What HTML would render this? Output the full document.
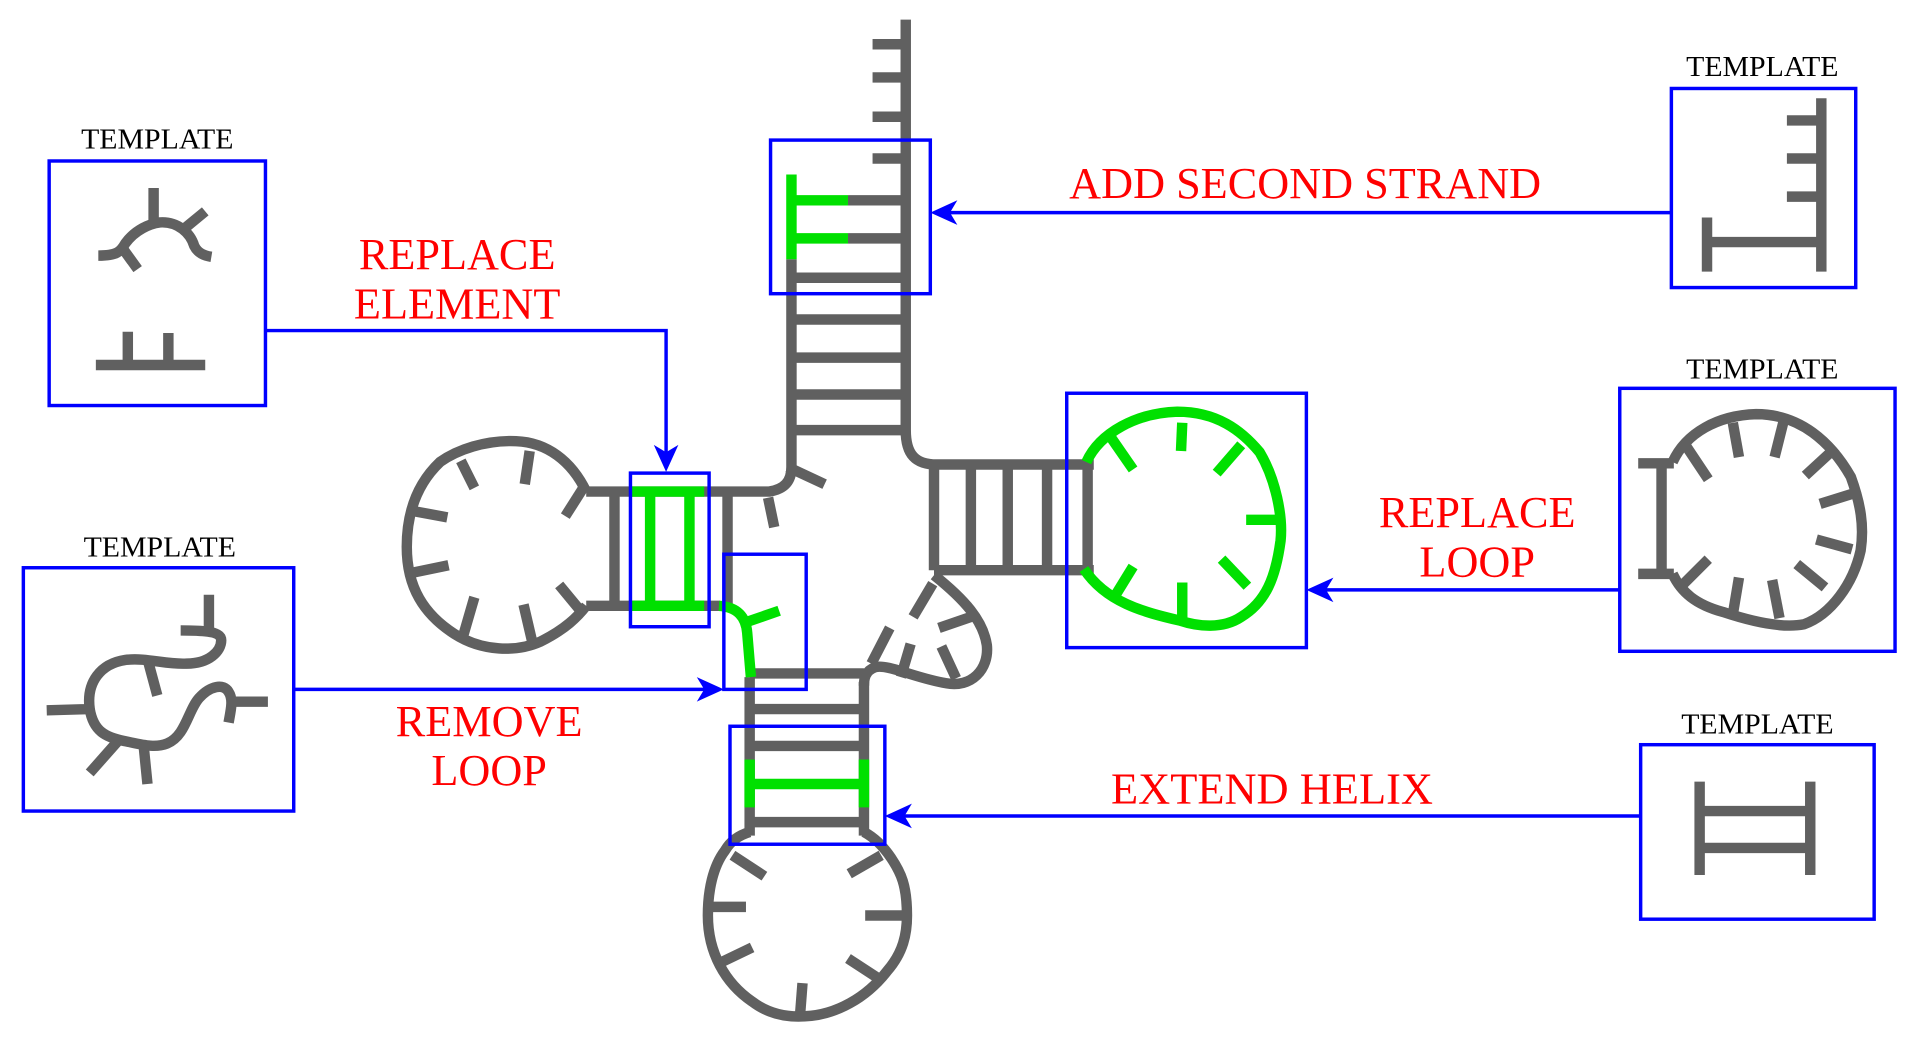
<!DOCTYPE html>
<html><head><meta charset="utf-8"><style>
html,body{margin:0;padding:0;background:#fff;}
svg{display:block;}
</style></head><body>
<svg width="1927" height="1047" viewBox="0 0 1568 852" preserveAspectRatio="none" xmlns="http://www.w3.org/2000/svg">
<g fill="none" stroke="#606060" stroke-width="8.5" stroke-linejoin="round">
<path d="M737,16 L737,350 C737,370 745,378 762,378 L890,378"/>
<path d="M644,211 L644,380 C644,392 638,398 626,400 L477,400"/>
<g stroke-linecap="butt">
<line x1="710" y1="36" x2="737" y2="36"/><line x1="710" y1="63" x2="737" y2="63"/>
<line x1="710" y1="95" x2="737" y2="95"/><line x1="710" y1="129" x2="737" y2="129"/>
<line x1="690" y1="163" x2="737" y2="163"/><line x1="690" y1="194" x2="737" y2="194"/>
<line x1="644" y1="226" x2="737" y2="226"/><line x1="644" y1="260" x2="737" y2="260"/>
<line x1="644" y1="291" x2="737" y2="291"/><line x1="644" y1="321" x2="737" y2="321"/>
<line x1="644" y1="350" x2="737" y2="350"/>
<line x1="641" y1="380" x2="671" y2="394"/>
<line x1="625" y1="405" x2="630" y2="429"/>
</g>
<path d="M477,493 L586,493"/>
<line x1="500" y1="400" x2="500" y2="493"/>
<line x1="592" y1="400" x2="592" y2="493"/>
<path d="M477,400 C465,375 445,360 420,359 C395,358 372,366 358,376 C338,395 331,420 331,445 C331,478 345,500 370,516 C392,530 420,531 440,522 C460,512 470,502 477,493"/>
<line x1="375" y1="375" x2="386" y2="397"/><line x1="431" y1="367" x2="427" y2="394"/>
<line x1="474" y1="398" x2="460" y2="420"/><line x1="337" y1="416" x2="364" y2="421"/>
<line x1="336" y1="466" x2="365" y2="460"/><line x1="386" y1="486" x2="377" y2="517"/>
<line x1="426" y1="492" x2="433" y2="522"/><line x1="455" y1="476" x2="474" y2="499"/>
<line x1="760" y1="378" x2="760" y2="464"/>
<line x1="760" y1="464" x2="890" y2="464"/>
<line x1="790" y1="378" x2="790" y2="464"/><line x1="820" y1="378" x2="820" y2="464"/>
<line x1="852" y1="378" x2="852" y2="464"/><line x1="885" y1="378" x2="885" y2="464"/>
<path d="M760,468 C785,488 800,505 803,525 C805,545 790,560 770,556 C745,552 722,540 712,543 C704,546 703,552 703,558"/>
<line x1="759" y1="475" x2="743" y2="502"/><line x1="764" y1="511" x2="790" y2="502"/>
<line x1="766" y1="526" x2="778" y2="552"/><line x1="741" y1="524" x2="733" y2="551"/>
<line x1="724" y1="511" x2="709" y2="540"/>
<line x1="610" y1="551" x2="610" y2="680"/>
<line x1="703" y1="555" x2="703" y2="680"/>
<line x1="610" y1="548" x2="703" y2="548"/>
<line x1="610" y1="577" x2="703" y2="577"/><line x1="610" y1="607" x2="703" y2="607"/>
<line x1="610" y1="669" x2="703" y2="669"/>
<path d="M610,677 C600,680 594,685 590,692 C580,705 576,725 576,745 C576,775 590,800 612,815 C625,825 640,828 655,827 C680,826 705,812 722,790 C735,775 738,760 738,745 C738,720 733,710 725,698 C718,688 712,682 703,677"/>
<line x1="596" y1="696" x2="622" y2="713"/><line x1="579" y1="738" x2="607" y2="738"/>
<line x1="587" y1="783" x2="612" y2="771"/><line x1="651" y1="826" x2="653" y2="800"/>
<line x1="716" y1="797" x2="690" y2="780"/><line x1="734" y1="745" x2="704" y2="745"/>
<line x1="717" y1="696" x2="691" y2="711"/>
<path d="M80,208 C95,208 98,205 102,198 C110,187 122,182 130,181 C145,180 155,190 158,200 C161,206 166,208 172,209"/>
<line x1="125" y1="153" x2="125" y2="181"/><line x1="150" y1="186" x2="167" y2="172"/>
<line x1="99" y1="201" x2="112" y2="219"/>
<line x1="78" y1="297" x2="167" y2="297"/><line x1="104" y1="297" x2="104" y2="270"/><line x1="137" y1="297" x2="137" y2="271"/>
<path d="M38,578 L73,577 C70,555 82,540 102,537 C120,535 135,541 152,540 C170,540 180,530 180,521 C180,513 162,513 147,513"/>
<line x1="170" y1="484" x2="170" y2="516"/>
<path d="M73,577 C76,595 86,600 101,603 C116,606 126,609 136,605 C151,599 153,578 162,568 C171,558 182,556 186,563 C190,569 188,577 186,588"/>
<line x1="186" y1="571" x2="218" y2="571"/>
<line x1="121" y1="540" x2="128" y2="566"/><line x1="96" y1="603" x2="73" y2="629"/>
<line x1="117" y1="608" x2="120" y2="638"/>
<line x1="1482" y1="80" x2="1482" y2="221"/><line x1="1385" y1="197" x2="1482" y2="197"/>
<line x1="1389" y1="177" x2="1389" y2="221"/>
<line x1="1454" y1="98" x2="1482" y2="98"/><line x1="1454" y1="129" x2="1482" y2="129"/><line x1="1454" y1="160" x2="1482" y2="160"/>
<line x1="1383" y1="636" x2="1383" y2="712"/><line x1="1473" y1="636" x2="1473" y2="712"/>
<line x1="1383" y1="660" x2="1473" y2="660"/><line x1="1383" y1="690" x2="1473" y2="690"/>
<line x1="1352" y1="377" x2="1352" y2="467"/>
<line x1="1333" y1="377" x2="1362" y2="377"/><line x1="1333" y1="467" x2="1362" y2="467"/>
<path d="M1361,376 C1372,352 1398,338 1429,337 C1465,337 1490,360 1506,388 C1514,410 1517,428 1514,448 C1508,475 1490,500 1468,508 C1448,512 1420,504 1402,498 C1380,492 1368,482 1361,467"/>
<line x1="1370" y1="360" x2="1390" y2="390"/><line x1="1410" y1="344" x2="1415" y2="372"/>
<line x1="1451" y1="344" x2="1444" y2="372"/><line x1="1494" y1="364" x2="1469" y2="387"/>
<line x1="1510" y1="401" x2="1481" y2="410"/><line x1="1507" y1="447" x2="1478" y2="439"/>
<line x1="1485" y1="478" x2="1462" y2="459"/><line x1="1448" y1="503" x2="1442" y2="472"/>
<line x1="1410" y1="500" x2="1415" y2="470"/><line x1="1367" y1="478" x2="1390" y2="455"/>
</g>
<g fill="none" stroke="#00e000" stroke-width="8.5">
<line x1="644" y1="142" x2="644" y2="211"/>
<line x1="644" y1="163" x2="690" y2="163"/><line x1="644" y1="194" x2="690" y2="194"/>
<line x1="513" y1="400" x2="573" y2="400"/><line x1="513" y1="493" x2="573" y2="493"/>
<line x1="529" y1="400" x2="529" y2="493"/><line x1="561" y1="400" x2="561" y2="493"/>
<path d="M585,493 C600,494 607,502 608,515 L611,551"/>
<line x1="608" y1="506" x2="634" y2="497"/>
<line x1="610" y1="618" x2="610" y2="657"/><line x1="703" y1="618" x2="703" y2="657"/>
<line x1="610" y1="638" x2="703" y2="638"/>
<path d="M884,376 C895,352 925,336 958,335 C990,335 1010,350 1025,368 C1038,390 1044,420 1042,440 C1038,470 1030,490 1010,502 C995,512 975,510 960,505 C930,498 900,490 882,463"/>
<line x1="904" y1="356" x2="922" y2="382"/><line x1="962" y1="344" x2="961" y2="367"/>
<line x1="1010" y1="362" x2="990" y2="385"/><line x1="1040" y1="423" x2="1014" y2="423"/>
<line x1="1015" y1="477" x2="994" y2="455"/><line x1="962" y1="503" x2="962" y2="474"/>
<line x1="906" y1="487" x2="922" y2="461"/>
</g>
<g fill="none" stroke="#0000ff" stroke-width="2.8">
<rect x="40" y="131" width="176" height="199"/>
<rect x="19" y="462" width="220" height="198"/>
<rect x="1360" y="72" width="150" height="162"/>
<rect x="1318" y="316" width="224" height="214"/>
<rect x="1335" y="606" width="190" height="142"/>
<rect x="627" y="114" width="130" height="125"/>
<rect x="513" y="385" width="64" height="125"/>
<rect x="589" y="451" width="67" height="110"/>
<rect x="868" y="320" width="195" height="207"/>
<rect x="594" y="591" width="126" height="96"/>
<polyline points="216,269 542,269 542,380"/>
<line x1="239" y1="561" x2="582" y2="561"/>
<line x1="1360" y1="173" x2="762" y2="173"/>
<line x1="1318" y1="480" x2="1068" y2="480"/>
<line x1="1335" y1="664" x2="725" y2="664"/>
</g>
<g fill="#0000ff">
<path d="M542,384 L532,362 L542,368 L552,362 Z"/>
<path d="M589,561 L567,551 L573,561 L567,571 Z"/>
<path d="M757,173 L779,163 L773,173 L779,183 Z"/>
<path d="M1063,480 L1085,470 L1079,480 L1085,490 Z"/>
<path d="M720,664 L742,654 L736,664 L742,674 Z"/>
</g>
<g font-family="Liberation Serif, serif" text-anchor="middle">
<g font-size="23" fill="#000">
<text x="128" y="121" textLength="124" lengthAdjust="spacingAndGlyphs">TEMPLATE</text>
<text x="130" y="453" textLength="124" lengthAdjust="spacingAndGlyphs">TEMPLATE</text>
<text x="1434" y="62" textLength="124" lengthAdjust="spacingAndGlyphs">TEMPLATE</text>
<text x="1434" y="308" textLength="124" lengthAdjust="spacingAndGlyphs">TEMPLATE</text>
<text x="1430" y="597" textLength="124" lengthAdjust="spacingAndGlyphs">TEMPLATE</text>
</g>
<g font-size="36" fill="#ff0000">
<text x="372" y="219" textLength="160" lengthAdjust="spacingAndGlyphs">REPLACE</text>
<text x="372" y="259" textLength="168" lengthAdjust="spacingAndGlyphs">ELEMENT</text>
<text x="1062" y="161" textLength="384" lengthAdjust="spacingAndGlyphs">ADD SECOND STRAND</text>
<text x="398" y="599" textLength="152" lengthAdjust="spacingAndGlyphs">REMOVE</text>
<text x="398" y="639">LOOP</text>
<text x="1035" y="654" textLength="262" lengthAdjust="spacingAndGlyphs">EXTEND HELIX</text>
<text x="1202" y="429" textLength="160" lengthAdjust="spacingAndGlyphs">REPLACE</text>
<text x="1202" y="469">LOOP</text>
</g>
</g>
</svg>
</body></html>
